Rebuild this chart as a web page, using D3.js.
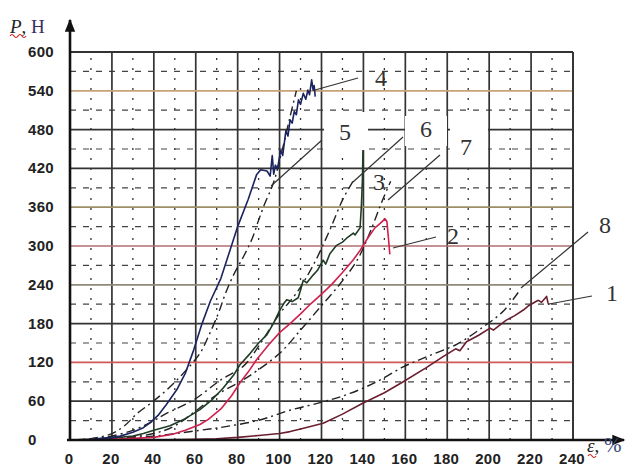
<!DOCTYPE html>
<html>
<head>
<meta charset="utf-8">
<script src="https://d3js.org/d3.v7.min.js"></script>
<style>
  body { margin: 0; background: #fff; }
  svg { display: block; }
</style>
</head>
<body>
<div class="vis"></div>
<script>
  let width = 639
  let height = 469
  let margin = { top: 52, right: 66, bottom: 29, left: 70 }

  // tick labels
  let xTickValues = [0, 20, 40, 60, 80, 100, 120, 140, 160, 180, 200, 220, 240]
  let yTickValues = [0, 60, 120, 180, 240, 300, 360, 420, 480, 540, 600]
  let xMinor = [10, 30, 50, 70, 90, 110, 130, 150, 170, 190, 210, 230]
  let yMinor = [30, 90, 150, 210, 270, 330, 390, 450, 510, 570]

  // measured curves [strain %, load N]
  let curve1 = [[0,0],[40,0],[60,1],[70,2],[80,4],[90,7],[100,10],[105,13],[110,17],[120.8,26],[130,40],[139.2,56],[150,73],[159,90],[170,112],[178,129],[184,141],[186,138],[189.2,152],[195,162],[200.4,173],[202,170],[208,185],[212,192],[216.3,201],[219,208],[223.4,216],[225,213],[227.4,222],[228,213],[228.5,209]]
  let curve2 = [[0,0],[20,1],[40,4],[49,9],[55,15],[62,24],[66,32],[72,48],[77,68],[81,88],[85,105],[89,124],[95,148],[100,166],[105,180],[110,195],[115,211],[120.8,228],[125,241],[130,259],[135,278],[138.4,293],[142,312],[145.5,328],[148,335],[150.3,342],[151.2,338],[152,310],[152.6,287]]
  let curve3 = [[0,0],[10,1],[20,3],[30,6],[35,10],[40,15],[47.7,22],[55,33],[62,47],[68,63],[73,80],[78,100],[81,116],[86,134],[90,150],[94,163],[97,180],[100,200],[102,211],[103.4,217],[106,214],[108.9,220],[110,232],[111.3,247],[113,243],[116,255],[118,262],[120.8,278],[122,272],[124,288],[127.2,301],[130,306],[132,312],[135.2,320],[136,317],[138.4,328],[139,360],[139.5,400],[139.8,448]]
  let curve4 = [[0,0],[10,1],[20,4],[24,6],[30,12],[35,19],[38,26],[42,38],[46,55],[51,78],[55,103],[59,139],[63,180],[67,215],[72,250],[76,290],[80,330],[85,372],[89,410],[91,418],[94,416],[95.5,408],[96.5,440],[97.2,411],[98,425],[99,419],[100.5,448],[101.5,440],[103,478],[104,470],[105,495],[106,490],[107,508],[108,503],[109,526],[110,519],[111.3,536],[112.5,527],[113.5,541],[114.3,534],[115.3,557],[116,541],[116.5,548],[117,531]]
  // model curves (dash-dot)
  let curve5 = [[0,0],[10,2],[20,10],[26,22],[32,41],[39,58],[46,77],[54,103],[62,134],[66,160],[70.8,196],[74,225],[78,255],[83,285],[87,312],[90,340],[93,366],[97,397],[101,445],[105,500],[108,540]]
  let curve6 = [[0,0],[15,3],[30,15],[40,30],[46,41],[59,62],[72,93],[83,115],[91,150],[100,195],[108,227],[116,270],[124,325],[130,371],[135,400]]
  let curve7 = [[0,0],[20,2],[40,10],[50,22],[60,45],[70,70],[80,88],[86,100],[100,134],[110,170],[119,204],[129,242],[137,278],[143,320],[149,370],[153,400]]
  let curve8 = [[0,0],[20,2],[40,6],[62,15],[75,21],[90.6,31],[104.9,46],[120.8,59],[133.6,72],[146.3,90],[159,113],[171.8,131],[184.5,148],[197.2,175],[206.7,199],[214.7,232]]

  let svg = d3.select('.vis').append('svg').attr('width', width).attr('height', height)

  let x = d3.scaleLinear().domain([0, 240]).range([margin.left, width - margin.right])
  let y = d3.scaleLinear().domain([0, 600]).range([height - margin.bottom, margin.top])

  let grid = svg.append('g')

  // minor grid
  grid.selectAll('.vminor').data(xMinor).join('line')
    .attr('x1', d => x(d)).attr('x2', d => x(d))
    .attr('y1', y(0)).attr('y2', y(600))
    .attr('stroke', '#333').attr('stroke-width', 1.3)
    .attr('stroke-dasharray', '2,8')
  grid.selectAll('.hminor').data(yMinor).join('line')
    .attr('x1', x(0)).attr('x2', x(240))
    .attr('y1', d => y(d)).attr('y2', d => y(d))
    .attr('stroke', '#444').attr('stroke-width', 1.2)
    .attr('stroke-dasharray', '6,7')

  // major grid (scan tints on a few rows)
  let rowTint = { 120: '#cf5a5a', 300: '#b07070', 360: '#9c8e66', 540: '#c8a27a', 240: '#8f8a78' }
  grid.selectAll('.vmajor').data(xTickValues.slice(1)).join('line')
    .attr('x1', d => x(d)).attr('x2', d => x(d))
    .attr('y1', y(0)).attr('y2', y(600))
    .attr('stroke', '#333').attr('stroke-width', 1.7)
  grid.selectAll('.hmajor').data(yTickValues.slice(1)).join('line')
    .attr('x1', x(0)).attr('x2', x(240))
    .attr('y1', d => y(d)).attr('y2', d => y(d))
    .attr('stroke', d => rowTint[d] || '#333').attr('stroke-width', 1.7)

  // white boxes behind labels 5, 6, 7
  let boxes = [[324, 112, 44, 38], [405, 116, 42, 30], [450, 112, 38, 50]]
  svg.append('g').selectAll('rect').data(boxes).join('rect')
    .attr('x', d => d[0]).attr('y', d => d[1]).attr('width', d => d[2]).attr('height', d => d[3])
    .attr('fill', '#fff')

  let line = d3.line().x(d => x(d[0])).y(d => y(d[1]))
  let smooth = d3.line().x(d => x(d[0])).y(d => y(d[1])).curve(d3.curveCatmullRom)

  let dashed = [curve5, curve6, curve7, curve8]
  svg.append('g').selectAll('path').data(dashed).join('path')
    .attr('d', smooth)
    .attr('fill', 'none').attr('stroke', '#222').attr('stroke-width', 1.4)
    .attr('stroke-dasharray', '9,4,2,4')

  let solids = [
    { pts: curve1, color: '#6a1f30' },
    { pts: curve3, color: '#1f3d26' },
    { pts: curve2, color: '#d0204f' },
    { pts: curve4, color: '#1c2460' }
  ]
  svg.append('g').selectAll('path').data(solids).join('path')
    .attr('d', d => line(d.pts))
    .attr('fill', 'none').attr('stroke', d => d.color).attr('stroke-width', 1.6)
    .attr('stroke-linejoin', 'round')

  // leader lines and curve numbers
  let leaders = [
    [315, 90, 358, 78], [271, 186, 322, 140], [353, 182, 403, 137],
    [388, 200, 440, 155], [393, 248, 436, 237], [521, 288, 588, 232], [549, 304, 592, 296]
  ]
  svg.append('g').selectAll('line').data(leaders).join('line')
    .attr('x1', d => d[0]).attr('y1', d => d[1]).attr('x2', d => d[2]).attr('y2', d => d[3])
    .attr('stroke', '#333').attr('stroke-width', 1.2)

  let numbers = [['4', 381, 78], ['5', 345, 132], ['6', 426, 129], ['7', 466, 147], ['3', 379, 182], ['2', 453, 236], ['8', 605, 225], ['1', 612, 293]]
  svg.append('g').selectAll('text').data(numbers).join('text')
    .attr('x', d => d[1]).attr('y', d => d[2])
    .attr('text-anchor', 'middle').attr('dominant-baseline', 'central')
    .style('font-family', '"Liberation Serif", "DejaVu Serif", serif')
    .style('font-size', '24px').style('fill', '#333')
    .text(d => d[0])

  // frame
  svg.append('line').attr('x1', x(0)).attr('x2', x(240)).attr('y1', y(600)).attr('y2', y(600))
    .attr('stroke', '#333').attr('stroke-width', 1.8)
  svg.append('line').attr('x1', x(240)).attr('x2', x(240)).attr('y1', y(0)).attr('y2', y(600))
    .attr('stroke', '#333').attr('stroke-width', 1.8)

  // axes with arrows
  svg.append('defs').append('marker')
    .attr('id', 'arrow').attr('viewBox', '0 0 10 10').attr('refX', 9).attr('refY', 5)
    .attr('markerWidth', 7).attr('markerHeight', 5).attr('orient', 'auto')
    .attr('markerUnits', 'strokeWidth')
    .append('path').attr('d', 'M0,1 L10,5 L0,9 Z').attr('fill', '#111')
  svg.append('line').attr('x1', x(0) - 3).attr('x2', 624).attr('y1', y(0)).attr('y2', y(0))
    .attr('stroke', '#111').attr('stroke-width', 2.6).attr('marker-end', 'url(#arrow)')
  svg.append('line').attr('x1', x(0)).attr('x2', x(0)).attr('y1', y(0) + 1).attr('y2', 20)
    .attr('stroke', '#111').attr('stroke-width', 2.6).attr('marker-end', 'url(#arrow)')

  // tick labels
  svg.append('g').selectAll('text').data(xTickValues).join('text')
    .attr('x', d => x(d) - 1).attr('y', 464)
    .attr('text-anchor', 'middle')
    .style('font-family', '"Liberation Sans", Arial, sans-serif')
    .style('font-size', '15px').style('font-weight', 'bold').style('fill', '#222')
    .style('letter-spacing', '0.3px')
    .text(d => d)
  svg.append('g').selectAll('text').data(yTickValues).join('text')
    .attr('x', 28).attr('y', d => y(d) + 5)
    .attr('text-anchor', 'start')
    .style('font-family', '"Liberation Sans", Arial, sans-serif')
    .style('font-size', '15px').style('font-weight', 'bold').style('fill', '#222')
    .style('letter-spacing', '0.3px')
    .text(d => d)

  // axis titles
  let yTitle = svg.append('text').attr('x', 10).attr('y', 33)
    .style('font-family', '"Liberation Serif", "DejaVu Serif", serif').style('font-size', '19px')
  yTitle.append('tspan').style('font-style', 'italic').style('fill', '#222').text('P')
  yTitle.append('tspan').style('fill', '#222').text(', ')
  yTitle.append('tspan').style('fill', '#3a2a66').text('Н')
  svg.append('path').attr('d', 'M10,36 q2,-3 4,0 t4,0 t4,0 t4,0')
    .attr('fill', 'none').attr('stroke', '#d02020').attr('stroke-width', 1.2)

  let xTitle = svg.append('text').attr('x', 587).attr('y', 452)
    .style('font-family', '"Liberation Serif", "DejaVu Serif", serif').style('font-size', '19px')
  xTitle.append('tspan').style('font-style', 'italic').style('fill', '#222').text('ε')
  xTitle.append('tspan').style('fill', '#222').text(', ')
  xTitle.append('tspan').style('fill', '#3a4a7a').style('font-size', '21px').text('%')
  svg.append('path').attr('d', 'M588,456 q2,-3 4,0 t4,0')
    .attr('fill', 'none').attr('stroke', '#d02020').attr('stroke-width', 1.2)
</script>
</body>
</html>
